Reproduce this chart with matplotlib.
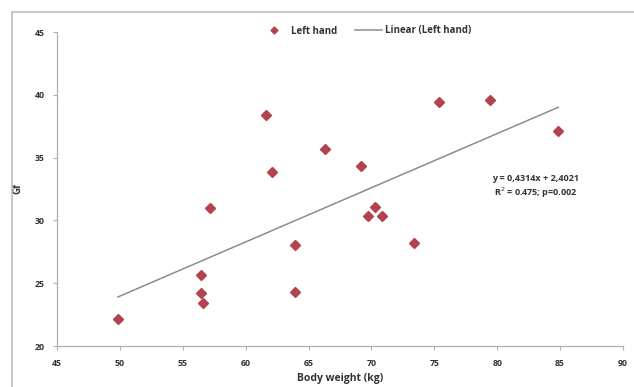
import numpy as np
import matplotlib
matplotlib.use('Agg')
from matplotlib import pyplot as plt
from matplotlib.patches import Rectangle

plt.rcParams['font.family'] = ['Open Sans', 'DejaVu Sans']

#%% data
body_weight = [49.85, 56.45, 56.45, 56.6, 57.16, 61.64, 62.06, 63.96, 63.9,
               66.27, 69.15, 69.76, 70.29, 70.82, 73.38, 75.36, 79.44, 84.85]
gf_left = [22.15, 25.65, 24.2, 23.45, 30.96, 38.39, 33.85, 28.04, 24.28,
           35.67, 34.36, 30.37, 31.09, 30.37, 28.18, 39.45, 39.59, 37.14]

slope = 0.4314
intercept = 2.4021
eq_text = 'y = 0,4314x + 2,4021\nR$^2$ = 0.475; p=0.002'

xticks = [45, 50, 55, 60, 65, 70, 75, 80, 85, 90]
yticks = [20, 25, 30, 35, 40, 45]

#%% figure
W, H = 634, 387
fig = plt.figure(figsize=(W/100, H/100), dpi=100)
ax = fig.add_axes([57/W, 1-346/H, 566/W, 314/H])

# chart area border (Excel-like, cut by the image edge)
fig.patches.append(Rectangle((12/W, -0.1), 1.2, 1-12/H+0.1, transform=fig.transFigure,
                             fill=False, edgecolor='#bdbdbd', linewidth=1.2))

mcol = '#b2424f'
txtcol = '#333333'
ax.plot(body_weight, gf_left, linestyle='none', marker='D', markersize=5,
        color=mcol, label='Left hand', zorder=3)

xfit = np.array([min(body_weight), max(body_weight)])
ax.plot(xfit, slope*xfit+intercept, color='#8c8c8c', linewidth=1.1,
        label='Linear (Left hand)', zorder=2)

ax.set_xlim(45, 90)
ax.set_ylim(20, 45)
ax.set_xticks(xticks)
ax.set_yticks(yticks)
for s in ['top', 'right']:
    ax.spines[s].set_visible(False)
for s in ['left', 'bottom']:
    ax.spines[s].set_color('#b0b0b0')
    ax.spines[s].set_linewidth(0.9)
ax.tick_params(length=3, width=0.8, color='#b0b0b0', labelsize=6.3, pad=6)
for lab in ax.get_xticklabels() + ax.get_yticklabels():
    lab.set_fontweight('bold')
    lab.set_color(txtcol)

ax.set_xlabel('Body weight (kg)', fontsize=7.5, fontweight='bold', color=txtcol, labelpad=4)
ax.set_ylabel('Gf', fontsize=7, fontweight='bold', color=txtcol, labelpad=8)

fig.text(536/W, 1-187/H, eq_text, fontsize=6.5, fontweight='bold',
         ha='center', va='center', color=txtcol, linespacing=1.25)

ax.legend(loc='center', bbox_to_anchor=(366/W, 1-31/H), bbox_transform=fig.transFigure,
          ncol=2, frameon=False, prop={'size': 7, 'weight': 'bold'}, markerscale=0.7,
          handlelength=2.8, columnspacing=1.8, handletextpad=0.3, labelcolor=txtcol)

plt.savefig('out.png', dpi=100)
